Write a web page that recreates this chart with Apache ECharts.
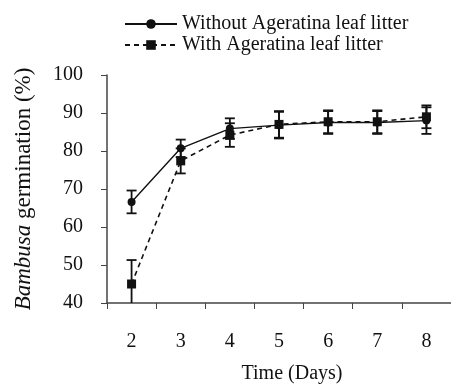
<!DOCTYPE html>
<html>
<head>
<meta charset="utf-8">
<script src="https://cdn.jsdelivr.net/npm/echarts@6/dist/echarts.min.js"></script>
<style>
  html, body { margin: 0; padding: 0; background: #fff; }
  #chart { width: 451px; height: 392px; }
</style>
</head>
<body>
<div id="chart"></div>
<script>
// days on the x axis
const days = ['2', '3', '4', '5', '6', '7', '8'];
// mean germination (%)
const withoutLitter = [66.6, 80.7, 85.9, 86.8, 87.5, 87.5, 88.0];
const withLitter = [45.0, 77.4, 84.2, 87.0, 87.7, 87.7, 89.0];
// standard error (+/-)
const withoutErr = [3.0, 2.3, 2.7, 3.5, 3.0, 3.0, 3.5];
const withErr = [6.3, 3.3, 3.1, 3.5, 3.0, 3.0, 3.0];
const yTicks = [40, 50, 60, 70, 80, 90, 100];

const font = 'Liberation Serif, Times New Roman, serif';

function errData(means, errs) {
    return means.map((m, i) => [i, m - errs[i], m + errs[i]]);
}

function renderErr(params, api) {
    const x = api.value(0);
    const lo = api.coord([x, api.value(1)]);
    const hi = api.coord([x, api.value(2)]);
    const cap = 5;
    const style = { stroke: '#111', lineWidth: 1.8 };
    return {
        type: 'group',
        children: [
            { type: 'line', shape: { x1: hi[0], y1: hi[1], x2: lo[0], y2: lo[1] }, style },
            { type: 'line', shape: { x1: hi[0] - cap, y1: hi[1], x2: hi[0] + cap, y2: hi[1] }, style },
            { type: 'line', shape: { x1: lo[0] - cap, y1: lo[1], x2: lo[0] + cap, y2: lo[1] }, style }
        ]
    };
}

const chart = echarts.init(document.getElementById('chart'));
const options = {
    animation: false,
    legend: {
        orient: 'vertical',
        left: 124,
        top: 14,
        padding: 0,
        itemWidth: 52,
        itemHeight: 12,
        itemGap: 1,
        data: ['Without Ageratina leaf litter', 'With Ageratina leaf litter'],
        textStyle: { fontFamily: font, fontSize: 20, color: '#111' }
    },
    grid: { left: 107, top: 75, bottom: 89, width: 350 },
    xAxis: {
        type: 'category',
        data: days,
        boundaryGap: true,
        name: 'Time (Days)',
        nameLocation: 'middle',
        nameGap: 61,
        nameTextStyle: { fontFamily: font, fontSize: 20, color: '#111', padding: [0, 0, 0, 26] },
        axisLine: { lineStyle: { color: '#444', width: 1.5 } },
        axisTick: { show: true, length: 6, lineStyle: { color: '#444' } },
        axisLabel: { fontFamily: font, fontSize: 20, color: '#111', margin: 29 }
    },
    yAxis: {
        type: 'value',
        min: yTicks[0],
        max: yTicks[yTicks.length - 1],
        interval: 10,
        name: '{i|Bambusa} germination (%)',
        nameLocation: 'middle',
        nameGap: 72,
        nameRotate: 90,
        nameTextStyle: {
            fontFamily: font, fontSize: 23, color: '#111',
            rich: { i: { fontFamily: font, fontSize: 23, fontStyle: 'italic', color: '#111' } }
        },
        splitLine: { show: false },
        axisLine: { show: true, lineStyle: { color: '#444', width: 1.5 } },
        axisTick: { show: true, length: 6, lineStyle: { color: '#444' } },
        axisLabel: { fontFamily: font, fontSize: 20, color: '#111', margin: 24 }
    },
    series: [
        {
            name: 'Without Ageratina leaf litter',
            type: 'line',
            data: withoutLitter,
            symbol: 'circle',
            symbolSize: 8,
            itemStyle: { color: '#111' },
            lineStyle: { color: '#111', width: 1.4, type: 'solid' },
            z: 3
        },
        {
            name: 'With Ageratina leaf litter',
            type: 'line',
            data: withLitter,
            symbol: 'rect',
            symbolSize: 9,
            itemStyle: { color: '#111' },
            lineStyle: { color: '#111', width: 1.6, type: [5, 4] },
            z: 3
        },
        {
            type: 'custom',
            data: errData(withoutLitter, withoutErr),
            renderItem: renderErr,
            clip: true,
            z: 2
        },
        {
            type: 'custom',
            data: errData(withLitter, withErr),
            renderItem: renderErr,
            clip: true,
            z: 2
        }
    ]
};
chart.setOption(options);
</script>
</body>
</html>
